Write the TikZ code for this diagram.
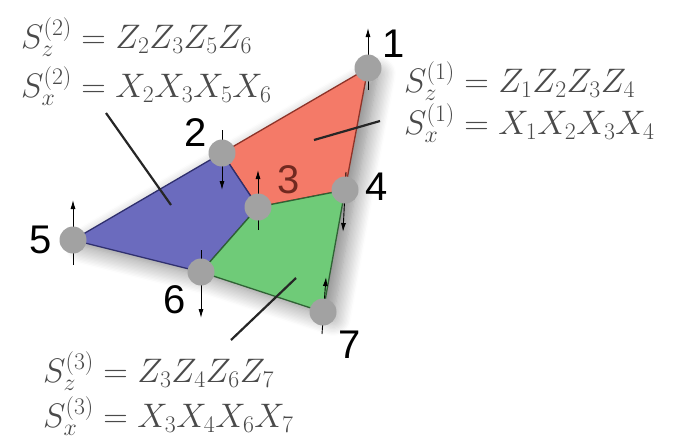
\RequirePackage{fix-cm}
\documentclass[tikz,border=0pt]{standalone}
\usepackage{fontspec}
\usepackage{amsmath}
\usepackage{tikz}
\usetikzlibrary{arrows.meta,shadows.blur}
\newfontfamily\numfont{Liberation Sans}
\definecolor{PlaqRed}{HTML}{F47A68}
\definecolor{PlaqBlue}{HTML}{6B6BBE}
\definecolor{PlaqGreen}{HTML}{6FCB78}
\definecolor{EdgeRed}{HTML}{8E3328}
\definecolor{EdgeBlue}{HTML}{2F2F6E}
\definecolor{EdgeGreen}{HTML}{2F6234}
\definecolor{SiteGray}{HTML}{A2A2A2}
\definecolor{EqGray}{HTML}{4A4A4A}

\begin{document}
\begin{tikzpicture}[
  x=1pt, y=-1pt,
  site/.style={circle, fill=SiteGray, minimum size=27pt, inner sep=0pt},
  spin/.style={-{Latex[length=9pt,width=5pt]}, line width=0.9pt, draw=black},
  plaq/.style={line width=1.3pt, line join=round},
  pointer/.style={line width=2.2pt, draw=black!85},
  num/.style={font=\numfont\fontsize{40}{40}\selectfont, inner sep=0pt},
  eq/.style={font=\fontsize{34}{40}\selectfont, text=EqGray, anchor=base west, inner sep=0pt, text height=22pt, text depth=6pt}
]
  \useasboundingbox (0,0) rectangle (684,439);

  % sites
  \coordinate (p1) at (368,68);
  \coordinate (p2) at (222,153);
  \coordinate (p3) at (258,207);
  \coordinate (p4) at (345,190);
  \coordinate (p5) at (73,240);
  \coordinate (p6) at (201,272);
  \coordinate (p7) at (323,312);

  % shadow under the lattice
  \fill[white, blur shadow={shadow xshift=10pt, shadow yshift=-6pt, shadow blur radius=18pt, shadow blur steps=14, shadow opacity=50}]
    (p5) -- (p2) -- (p1) -- (p4) -- (p7) -- (p6) -- cycle;

  % plaquettes
  \draw[plaq, fill=PlaqRed, draw=EdgeRed] (p2) -- (p1) -- (p4) -- (p3) -- cycle;
  \draw[plaq, fill=PlaqBlue, draw=EdgeBlue] (p5) -- (p2) -- (p3) -- (p6) -- cycle;
  \draw[plaq, fill=PlaqGreen, draw=EdgeGreen] (p3) -- (p4) -- (p7) -- (p6) -- cycle;

  % spins
  \coordinate (s1a) at (368,90);
  \coordinate (s1b) at (368,28);
  \draw[spin] (s1a) -- (s1b);
  \coordinate (s2a) at (222,130);
  \coordinate (s2b) at (222,190);
  \draw[spin] (s2a) -- (s2b);
  \coordinate (s3a) at (258,230);
  \coordinate (s3b) at (258,170);
  \draw[spin] (s3a) -- (s3b);
  \coordinate (s4a) at (346,172);
  \coordinate (s4b) at (343,232);
  \draw[spin] (s4a) -- (s4b);
  \coordinate (s5a) at (73,265);
  \coordinate (s5b) at (73,200);
  \draw[spin] (s5a) -- (s5b);
  \coordinate (s6a) at (201,250);
  \coordinate (s6b) at (201,318);
  \draw[spin] (s6a) -- (s6b);
  \coordinate (s7a) at (322,334);
  \coordinate (s7b) at (326,277);
  \draw[spin] (s7a) -- (s7b);

  \foreach \i in {1,...,7}
    \node[site] (site\i) at (p\i) {};

  % site numbers
  \node[num] (n1) at (394,44) {1};
  \node[num] (n2) at (196,133) {2};
  \node[num, text=EdgeRed!80!black] (n3) at (289,180) {3};
  \node[num] (n4) at (377,187) {4};
  \node[num] (n5) at (41,240) {5};
  \node[num] (n6) at (175,300) {6};
  \node[num] (n7) at (350,345) {7};

  % stabilizers
  \node[eq] (sz2) at (21,48) {$S_z^{(2)} = Z_2Z_3Z_5Z_6$};
  \node[eq] (sx2) at (21,97) {$S_x^{(2)} = X_2X_3X_5X_6$};
  \node[eq] (sz1) at (404,92) {$S_z^{(1)} = Z_1Z_2Z_3Z_4$};
  \node[eq] (sx1) at (404,134) {$S_x^{(1)} = X_1X_2X_3X_4$};
  \node[eq] (sz3) at (43,382) {$S_z^{(3)} = Z_3Z_4Z_6Z_7$};
  \node[eq] (sx3) at (43,427) {$S_x^{(3)} = X_3X_4X_6X_7$};

  % pointers
  \coordinate (c2) at (171,205);
  \coordinate (c1) at (314,140);
  \coordinate (c3) at (296,278);
  \coordinate (t2) at (106,113);
  \coordinate (t1) at (380,121);
  \coordinate (t3) at (231,340);
  \draw[pointer] (t2) -- (c2);
  \draw[pointer] (t1) -- (c1);
  \draw[pointer] (t3) -- (c3);
\end{tikzpicture}
\end{document}
